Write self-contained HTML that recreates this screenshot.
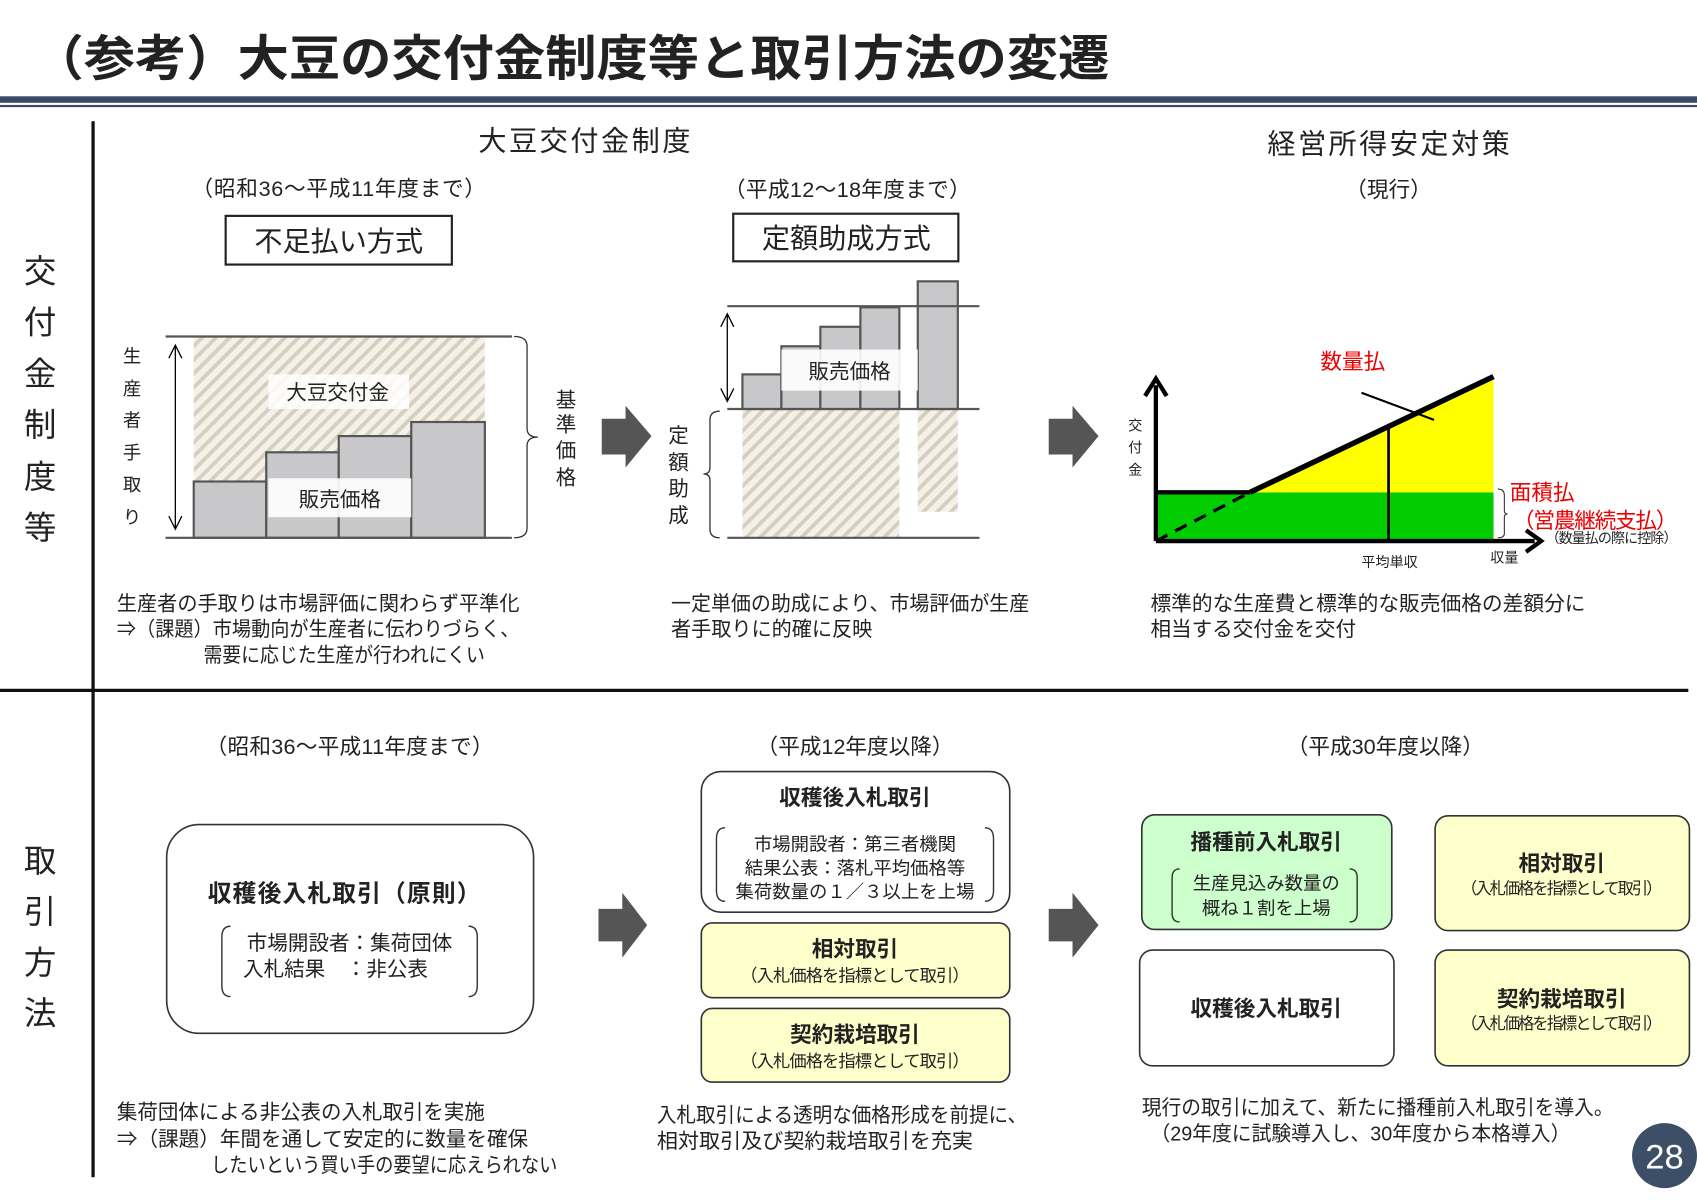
<!DOCTYPE html>
<html><head><meta charset="utf-8"><style>
html,body{margin:0;padding:0;background:#fff;width:1697px;height:1200px;overflow:hidden}
svg{display:block}
text{font-family:"Liberation Sans","Noto Sans CJK JP",sans-serif;fill:#222}
.b{font-weight:bold}
</style></head><body>
<svg width="1697" height="1200" viewBox="0 0 1568 1109" preserveAspectRatio="none" xmlns="http://www.w3.org/2000/svg">
<defs>
<pattern id="h" patternUnits="userSpaceOnUse" width="9" height="9" patternTransform="rotate(45)">
<rect width="9" height="9" fill="#f4f1ea"/><rect x="0" y="0" width="3.5" height="9" fill="#d6cfbd"/>
</pattern>
</defs>
<!-- title -->
<text x="30" y="70" font-size="45" class="b" fill="#111" textLength="995" lengthAdjust="spacingAndGlyphs">（参考）大豆の交付金制度等と取引方法の変遷</text>
<rect x="0" y="89" width="1568" height="6" fill="#3a4a66"/>
<rect x="0" y="97" width="1568" height="2" fill="#3a4a66"/>
<line x1="86" y1="112" x2="86" y2="1088" stroke="#111" stroke-width="3"/>
<line x1="0" y1="638" x2="1560" y2="638" stroke="#111" stroke-width="3"/>
<g font-size="30" text-anchor="middle">
<text x="37" y="261">交</text><text x="37" y="308">付</text><text x="37" y="356">金</text><text x="37" y="403">制</text><text x="37" y="451">度</text><text x="37" y="498">等</text>
<text x="37" y="806">取</text><text x="37" y="853">引</text><text x="37" y="900">方</text><text x="37" y="947">法</text>
</g>
<!-- top headings -->
<g text-anchor="middle">
<text x="540" y="139" font-size="26" textLength="196">大豆交付金制度</text>
<text x="1283" y="142" font-size="26" textLength="224">経営所得安定対策</text>
<text x="313" y="181" font-size="20" textLength="272">（昭和36～平成11年度まで）</text>
<text x="783" y="182" font-size="20" textLength="228">（平成12～18年度まで）</text>
<text x="1283" y="182" font-size="20">（現行）</text>
</g>
<rect x="208.5" y="199.5" width="209" height="45" fill="#fff" stroke="#222" stroke-width="2"/>
<text x="313" y="232" font-size="26" text-anchor="middle">不足払い方式</text>
<rect x="677.5" y="197.5" width="208" height="44" fill="#fff" stroke="#222" stroke-width="2"/>
<text x="782" y="229" font-size="26" text-anchor="middle">定額助成方式</text>
<!-- chart 1 -->
<rect x="179" y="311" width="269" height="186" fill="url(#h)"/>
<g fill="#c8c8cb" stroke="#555" stroke-width="2">
<rect x="179" y="445" width="67" height="52"/><rect x="246" y="418" width="67" height="79"/><rect x="313" y="403" width="67" height="94"/><rect x="380" y="390" width="68" height="107"/>
</g>
<line x1="153" y1="311" x2="473" y2="311" stroke="#555" stroke-width="2"/>
<line x1="153" y1="497" x2="473" y2="497" stroke="#555" stroke-width="2"/>
<rect x="248" y="346" width="130" height="32" fill="#fff" opacity="0.85"/>
<text x="312" y="369" font-size="19" text-anchor="middle">大豆交付金</text>
<rect x="248" y="442" width="132" height="36" fill="#fff" opacity="0.9"/>
<text x="314" y="468" font-size="19" text-anchor="middle">販売価格</text>
<g fill="none" stroke="#000" stroke-width="1.2">
<line x1="162" y1="319" x2="162" y2="489"/><polyline points="156,331 162,319 168,331"/><polyline points="156,477 162,489 168,477"/>
<line x1="672" y1="290" x2="672" y2="371"/><polyline points="666,302 672,290 678,302"/><polyline points="666,359 672,371 678,359"/>
</g>
<g font-size="17" text-anchor="middle"><text x="122" y="335">生</text><text x="122" y="365">産</text><text x="122" y="394">者</text><text x="122" y="424">手</text><text x="122" y="454">取</text><text x="122" y="484">り</text></g>
<path d="M475,311 Q487,311 487,320 L487,396 Q487,404 497,404 Q487,404 487,412 L487,488 Q487,497 475,497" fill="none" stroke="#333" stroke-width="1.2"/>
<g font-size="19" text-anchor="middle"><text x="523" y="376">基</text><text x="523" y="399">準</text><text x="523" y="423">価</text><text x="523" y="448">格</text></g>
<!-- arrows -->
<g fill="#555">
<polygon points="556,387 578,387 578,375 602,403 578,432 578,420 556,420"/>
<polygon points="969,387 991,387 991,375 1015,403 991,432 991,420 969,420"/>
<polygon points="553,840 575,840 575,825 598,855 575,885 575,870 553,870"/>
<polygon points="969,840 991,840 991,825 1015,855 991,885 991,870 969,870"/>
</g>
<!-- chart 2 -->
<rect x="686" y="378" width="145" height="119" fill="url(#h)"/>
<rect x="848" y="378" width="37" height="95" fill="url(#h)"/>
<g fill="#c8c8cb" stroke="#555" stroke-width="2">
<rect x="686" y="346" width="36" height="32"/><rect x="722" y="320" width="36" height="58"/><rect x="758" y="302" width="37" height="76"/><rect x="795" y="284" width="36" height="94"/><rect x="848" y="260" width="37" height="118"/>
</g>
<line x1="672" y1="283" x2="905" y2="283" stroke="#555" stroke-width="2"/>
<line x1="672" y1="378" x2="905" y2="378" stroke="#555" stroke-width="2"/>
<line x1="672" y1="497" x2="905" y2="497" stroke="#555" stroke-width="2"/>
<rect x="722" y="323" width="126" height="38" fill="#fff" opacity="0.9"/>
<text x="785" y="350" font-size="19" text-anchor="middle">販売価格</text>
<path d="M665,380 Q656,380 656,388 L656,432 Q656,438 650,438 Q656,438 656,444 L656,489 Q656,497 665,497" fill="none" stroke="#333" stroke-width="1.2"/>
<g font-size="19" text-anchor="middle"><text x="627" y="409">定</text><text x="627" y="434">額</text><text x="627" y="458">助</text><text x="627" y="483">成</text></g>
<!-- chart 3 -->
<rect x="1068" y="455" width="312" height="45" fill="#00cc00"/>
<polygon points="1155,455 1380,350 1380,455" fill="#ffff00"/>
<line x1="1068" y1="500" x2="1068" y2="356" stroke="#000" stroke-width="4"/>
<polyline points="1058,366 1068,350 1078,366" fill="none" stroke="#000" stroke-width="4"/>
<line x1="1068" y1="500" x2="1418" y2="500" stroke="#000" stroke-width="4"/>
<polyline points="1410,490 1424,500 1410,510" fill="none" stroke="#000" stroke-width="4"/>
<line x1="1068" y1="455" x2="1155" y2="455" stroke="#000" stroke-width="4"/>
<line x1="1155" y1="455" x2="1380" y2="348" stroke="#000" stroke-width="5"/>
<line x1="1068" y1="500" x2="1155" y2="455" stroke="#000" stroke-width="3" stroke-dasharray="12,8"/>
<line x1="1283" y1="395" x2="1283" y2="500" stroke="#000" stroke-width="2.5"/>
<line x1="1258" y1="363" x2="1325" y2="388" stroke="#000" stroke-width="2"/>
<path d="M1384,452 Q1390,452 1390,458 L1390,472 Q1390,475 1393,475 Q1390,475 1390,478 L1390,493 Q1390,497 1384,497" fill="none" stroke="#333" stroke-width="1"/>
<text x="1220" y="341" font-size="20" style="fill:#ee0000">数量払</text>
<text x="1395" y="462" font-size="20" style="fill:#ee0000">面積払</text>
<text x="1398" y="488" font-size="20" style="fill:#ee0000" textLength="152">（営農継続支払）</text>
<text x="1428" y="502" font-size="13" textLength="122">（数量払の際に控除）</text>
<text x="1258" y="524" font-size="13">平均単収</text>
<text x="1377" y="520" font-size="13">収量</text>
<g font-size="13" text-anchor="middle"><text x="1049" y="398">交</text><text x="1049" y="418">付</text><text x="1049" y="439">金</text></g>
<!-- top descriptions -->
<g font-size="19" lengthAdjust="spacingAndGlyphs">
<text x="108" y="564" textLength="372" lengthAdjust="spacingAndGlyphs">生産者の手取りは市場評価に関わらず平準化</text>
<text x="108" y="588" textLength="372" lengthAdjust="spacingAndGlyphs">⇒（課題）市場動向が生産者に伝わりづらく、</text>
<text x="188" y="612" textLength="260" lengthAdjust="spacingAndGlyphs">需要に応じた生産が行われにくい</text>
<text x="620" y="564" textLength="331" lengthAdjust="spacingAndGlyphs">一定単価の助成により、市場評価が生産</text>
<text x="620" y="588" textLength="186" lengthAdjust="spacingAndGlyphs">者手取りに的確に反映</text>
<text x="1063" y="564" textLength="402" lengthAdjust="spacingAndGlyphs">標準的な生産費と標準的な販売価格の差額分に</text>
<text x="1063" y="588" textLength="190" lengthAdjust="spacingAndGlyphs">相当する交付金を交付</text>
</g>
<!-- bottom -->
<g text-anchor="middle" font-size="20">
<text x="323" y="697" textLength="266">（昭和36～平成11年度まで）</text>
<text x="790" y="697">（平成12年度以降）</text>
<text x="1280" y="697">（平成30年度以降）</text>
</g>
<g stroke="#333" stroke-width="1.5">
<rect x="154" y="762" width="339" height="193" rx="30" fill="#fff"/>
<rect x="648" y="713" width="285" height="130" rx="18" fill="#fff"/>
<rect x="648" y="853" width="285" height="69" rx="10" fill="#ffffcc"/>
<rect x="648" y="932" width="285" height="68" rx="10" fill="#ffffcc"/>
<rect x="1055" y="753" width="231" height="106" rx="12" fill="#ccffcc"/>
<rect x="1326" y="754" width="235" height="106" rx="12" fill="#ffffcc"/>
<rect x="1053" y="878" width="235" height="107" rx="12" fill="#fff"/>
<rect x="1326" y="878" width="235" height="107" rx="12" fill="#ffffcc"/>
</g>
<g fill="none" stroke="#333" stroke-width="1.3">
<path d="M213,856 Q205,856 205,866 L205,911 Q205,921 213,921"/><path d="M433,856 Q441,856 441,866 L441,911 Q441,921 433,921"/>
<path d="M670,765 Q662,765 662,775 L662,823 Q662,833 670,833"/><path d="M910,765 Q918,765 918,775 L918,823 Q918,833 910,833"/>
<path d="M1090,803 Q1083,803 1083,811 L1083,844 Q1083,852 1090,852"/><path d="M1247,803 Q1254,803 1254,811 L1254,844 Q1254,852 1247,852"/>
</g>
<g text-anchor="middle">
<text x="318" y="833" font-size="22" class="b" textLength="252">収穫後入札取引（原則）</text>
<text x="323" y="878" font-size="19">市場開設者：集荷団体</text>
<text x="310" y="902" font-size="19">入札結果　：非公表</text>
<text x="790" y="744" font-size="20" class="b">収穫後入札取引</text>
<text x="790" y="786" font-size="17">市場開設者：第三者機関</text>
<text x="790" y="808" font-size="17">結果公表：落札平均価格等</text>
<text x="790" y="830" font-size="17">集荷数量の１／３以上を上場</text>
<text x="790" y="884" font-size="20" class="b">相対取引</text>
<text x="790" y="907" font-size="16" textLength="212">（入札価格を指標として取引）</text>
<text x="790" y="963" font-size="20" class="b">契約栽培取引</text>
<text x="790" y="986" font-size="16" textLength="212">（入札価格を指標として取引）</text>
<text x="1170" y="785" font-size="20" class="b">播種前入札取引</text>
<text x="1170" y="822" font-size="17">生産見込み数量の</text>
<text x="1170" y="845" font-size="17">概ね１割を上場</text>
<text x="1443" y="805" font-size="20" class="b">相対取引</text>
<text x="1443" y="826" font-size="15" textLength="186">（入札価格を指標として取引）</text>
<text x="1170" y="939" font-size="20" class="b">収穫後入札取引</text>
<text x="1443" y="930" font-size="20" class="b">契約栽培取引</text>
<text x="1443" y="951" font-size="15" textLength="186">（入札価格を指標として取引）</text>
</g>
<g font-size="19">
<text x="108" y="1034" textLength="340" lengthAdjust="spacingAndGlyphs">集荷団体による非公表の入札取引を実施</text>
<text x="108" y="1059" textLength="380" lengthAdjust="spacingAndGlyphs">⇒（課題）年間を通して安定的に数量を確保</text>
<text x="195" y="1083" textLength="320" lengthAdjust="spacingAndGlyphs">したいという買い手の要望に応えられない</text>
<text x="607" y="1037" textLength="342" lengthAdjust="spacingAndGlyphs">入札取引による透明な価格形成を前提に、</text>
<text x="607" y="1061" textLength="292" lengthAdjust="spacingAndGlyphs">相対取引及び契約栽培取引を充実</text>
<text x="1055" y="1030" textLength="436" lengthAdjust="spacingAndGlyphs">現行の取引に加えて、新たに播種前入札取引を導入。</text>
<text x="1063" y="1054" textLength="388" lengthAdjust="spacingAndGlyphs">（29年度に試験導入し、30年度から本格導入）</text>
</g>
<circle cx="1538" cy="1068" r="30" fill="#3d4f66"/>
<text x="1538" y="1080" font-size="32" text-anchor="middle" style="fill:#fff">28</text>
</svg>
</body></html>
